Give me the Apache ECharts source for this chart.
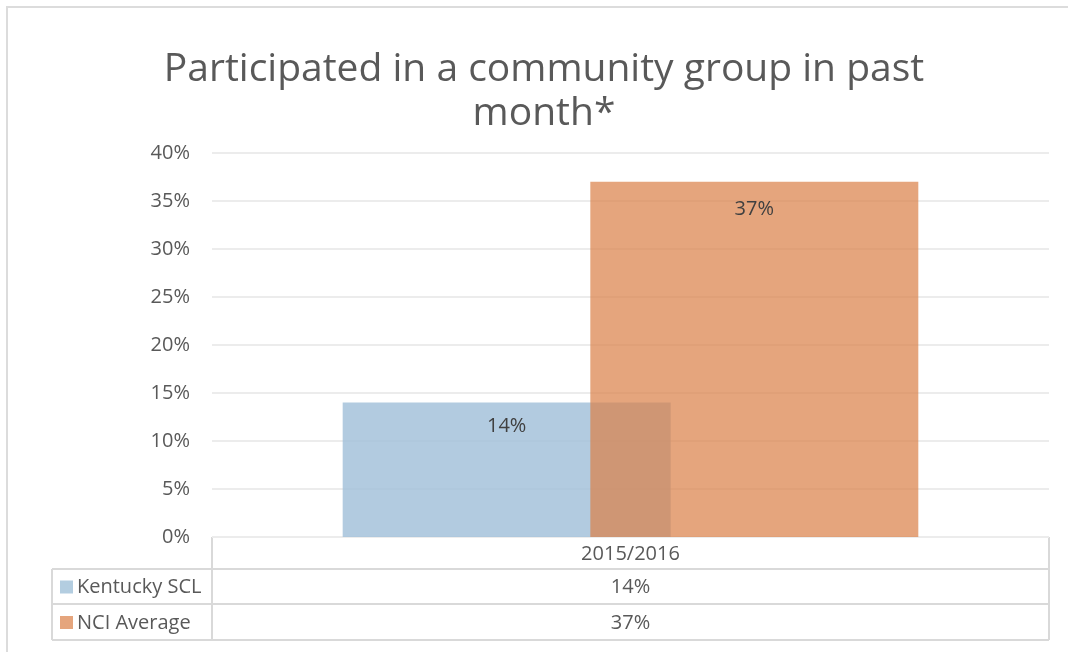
<!DOCTYPE html>
<html>
<head>
<meta charset="utf-8">
<script src="https://cdn.jsdelivr.net/npm/echarts@6/dist/echarts.min.js"></script>
<style>
  html, body { margin: 0; padding: 0; background: #fff; }
  #chart { width: 1068px; height: 652px; }
</style>
</head>
<body>
<div id="chart"></div>
<script>
// Survey period and results
const categories = ['2015/2016'];
const seriesNames = ['Kentucky SCL', 'NCI Average'];
const kentuckyValues = [14];
const nciValues = [37];
const yTicks = [0, 5, 10, 15, 20, 25, 30, 35, 40];

const titleText = 'Participated in a community group in past\nmonth*';
const FONT = '"Open Sans", Lato, sans-serif';
const colors = ['rgba(164,194,219,0.85)', 'rgba(218,128,72,0.71)'];
const legendColors = ['#b3cde0', '#e5a57d'];
const lineColor = '#d9d9d9';
const textColor = '#595959';

// Layout of plot area and data table beneath it
const W = 1068, H = 652;
const G = { left: 212, right: 19, top: 153, bottom: 115 };
const plotRight = W - G.right;
const plotBottom = H - G.bottom;
const rowH = [32, 35, 36];
const headerLeft = 52;

const chart = echarts.init(document.getElementById('chart'));

function tableGraphics() {
  const els = [];
  const y0 = plotBottom;
  const y1 = y0 + rowH[0];
  const y2 = y1 + rowH[1];
  const y3 = y2 + rowH[2];
  const line = (x1, ya, x2, yb) => ({
    type: 'line', silent: true,
    shape: { x1: x1, y1: ya, x2: x2, y2: yb },
    style: { stroke: lineColor, lineWidth: 2 }
  });
  // outer frame around the whole chart
  els.push({ type: 'rect', silent: true, shape: { x: 7, y: 7, width: W + 10, height: H + 10 },
    style: { fill: 'none', stroke: '#dcdcdc', lineWidth: 2 } });
  // horizontal rules
  els.push(line(G.left, y0, plotRight, y0));
  els.push(line(headerLeft, y1, plotRight, y1));
  els.push(line(headerLeft, y2, plotRight, y2));
  els.push(line(headerLeft, y3, plotRight, y3));
  // vertical rules
  els.push(line(G.left, y0, G.left, y3));
  els.push(line(plotRight, y0, plotRight, y3));
  els.push(line(headerLeft, y1, headerLeft, y3));
  const cx = (G.left + plotRight) / 2;
  // header row
  els.push({ type: 'text', silent: true, x: cx, y: (y0 + y1) / 2 + 1,
    style: { text: categories[0], fill: textColor, font: '20px ' + FONT, align: 'center', verticalAlign: 'middle' } });
  const rows = [[y1, y2, kentuckyValues[0]], [y2, y3, nciValues[0]]];
  rows.forEach((r, i) => {
    const my = (r[0] + r[1]) / 2 + 1;
    els.push({ type: 'rect', silent: true, shape: { x: 60, y: my - 7, width: 13, height: 13 },
      style: { fill: legendColors[i] } });
    els.push({ type: 'text', silent: true, x: 77, y: my,
      style: { text: seriesNames[i], fill: textColor, font: '20px ' + FONT, align: 'left', verticalAlign: 'middle' } });
    els.push({ type: 'text', silent: true, x: cx, y: my,
      style: { text: r[2] + '%', fill: textColor, font: '20px ' + FONT, align: 'center', verticalAlign: 'middle' } });
  });
  return els;
}

chart.setOption({
  backgroundColor: '#fff',
  animation: false,
  title: {
    text: titleText,
    left: 539,
    textAlign: 'center',
    top: 43,
    textStyle: { fontFamily: FONT, fontSize: 39, fontWeight: 'normal', color: textColor, lineHeight: 44 }
  },
  grid: { left: G.left, right: G.right, top: G.top, bottom: G.bottom, containLabel: false },
  xAxis: {
    type: 'category',
    data: categories,
    axisLine: { show: false },
    axisTick: { show: false },
    axisLabel: { show: false }
  },
  yAxis: {
    type: 'value',
    min: yTicks[0],
    max: yTicks[yTicks.length - 1],
    interval: yTicks[1] - yTicks[0],
    axisLine: { show: false },
    axisTick: { show: false },
    axisLabel: { formatter: '{value}%', color: textColor, fontFamily: FONT, fontSize: 20, margin: 22 },
    splitLine: { lineStyle: { color: '#ececec', width: 2 } }
  },
  series: [
    {
      name: seriesNames[0], type: 'bar', data: kentuckyValues,
      barWidth: 328, barGap: '-24.5%',
      itemStyle: { color: colors[0] },
      label: { show: true, position: 'insideTop', distance: 14, formatter: '{c}%', color: '#404040', fontFamily: FONT, fontSize: 20 }
    },
    {
      name: seriesNames[1], type: 'bar', data: nciValues,
      barWidth: 328,
      itemStyle: { color: colors[1] },
      label: { show: true, position: 'insideTop', distance: 17, formatter: '{c}%', color: '#404040', fontFamily: FONT, fontSize: 20 }
    }
  ],
  graphic: tableGraphics()
});
</script>
</body>
</html>
